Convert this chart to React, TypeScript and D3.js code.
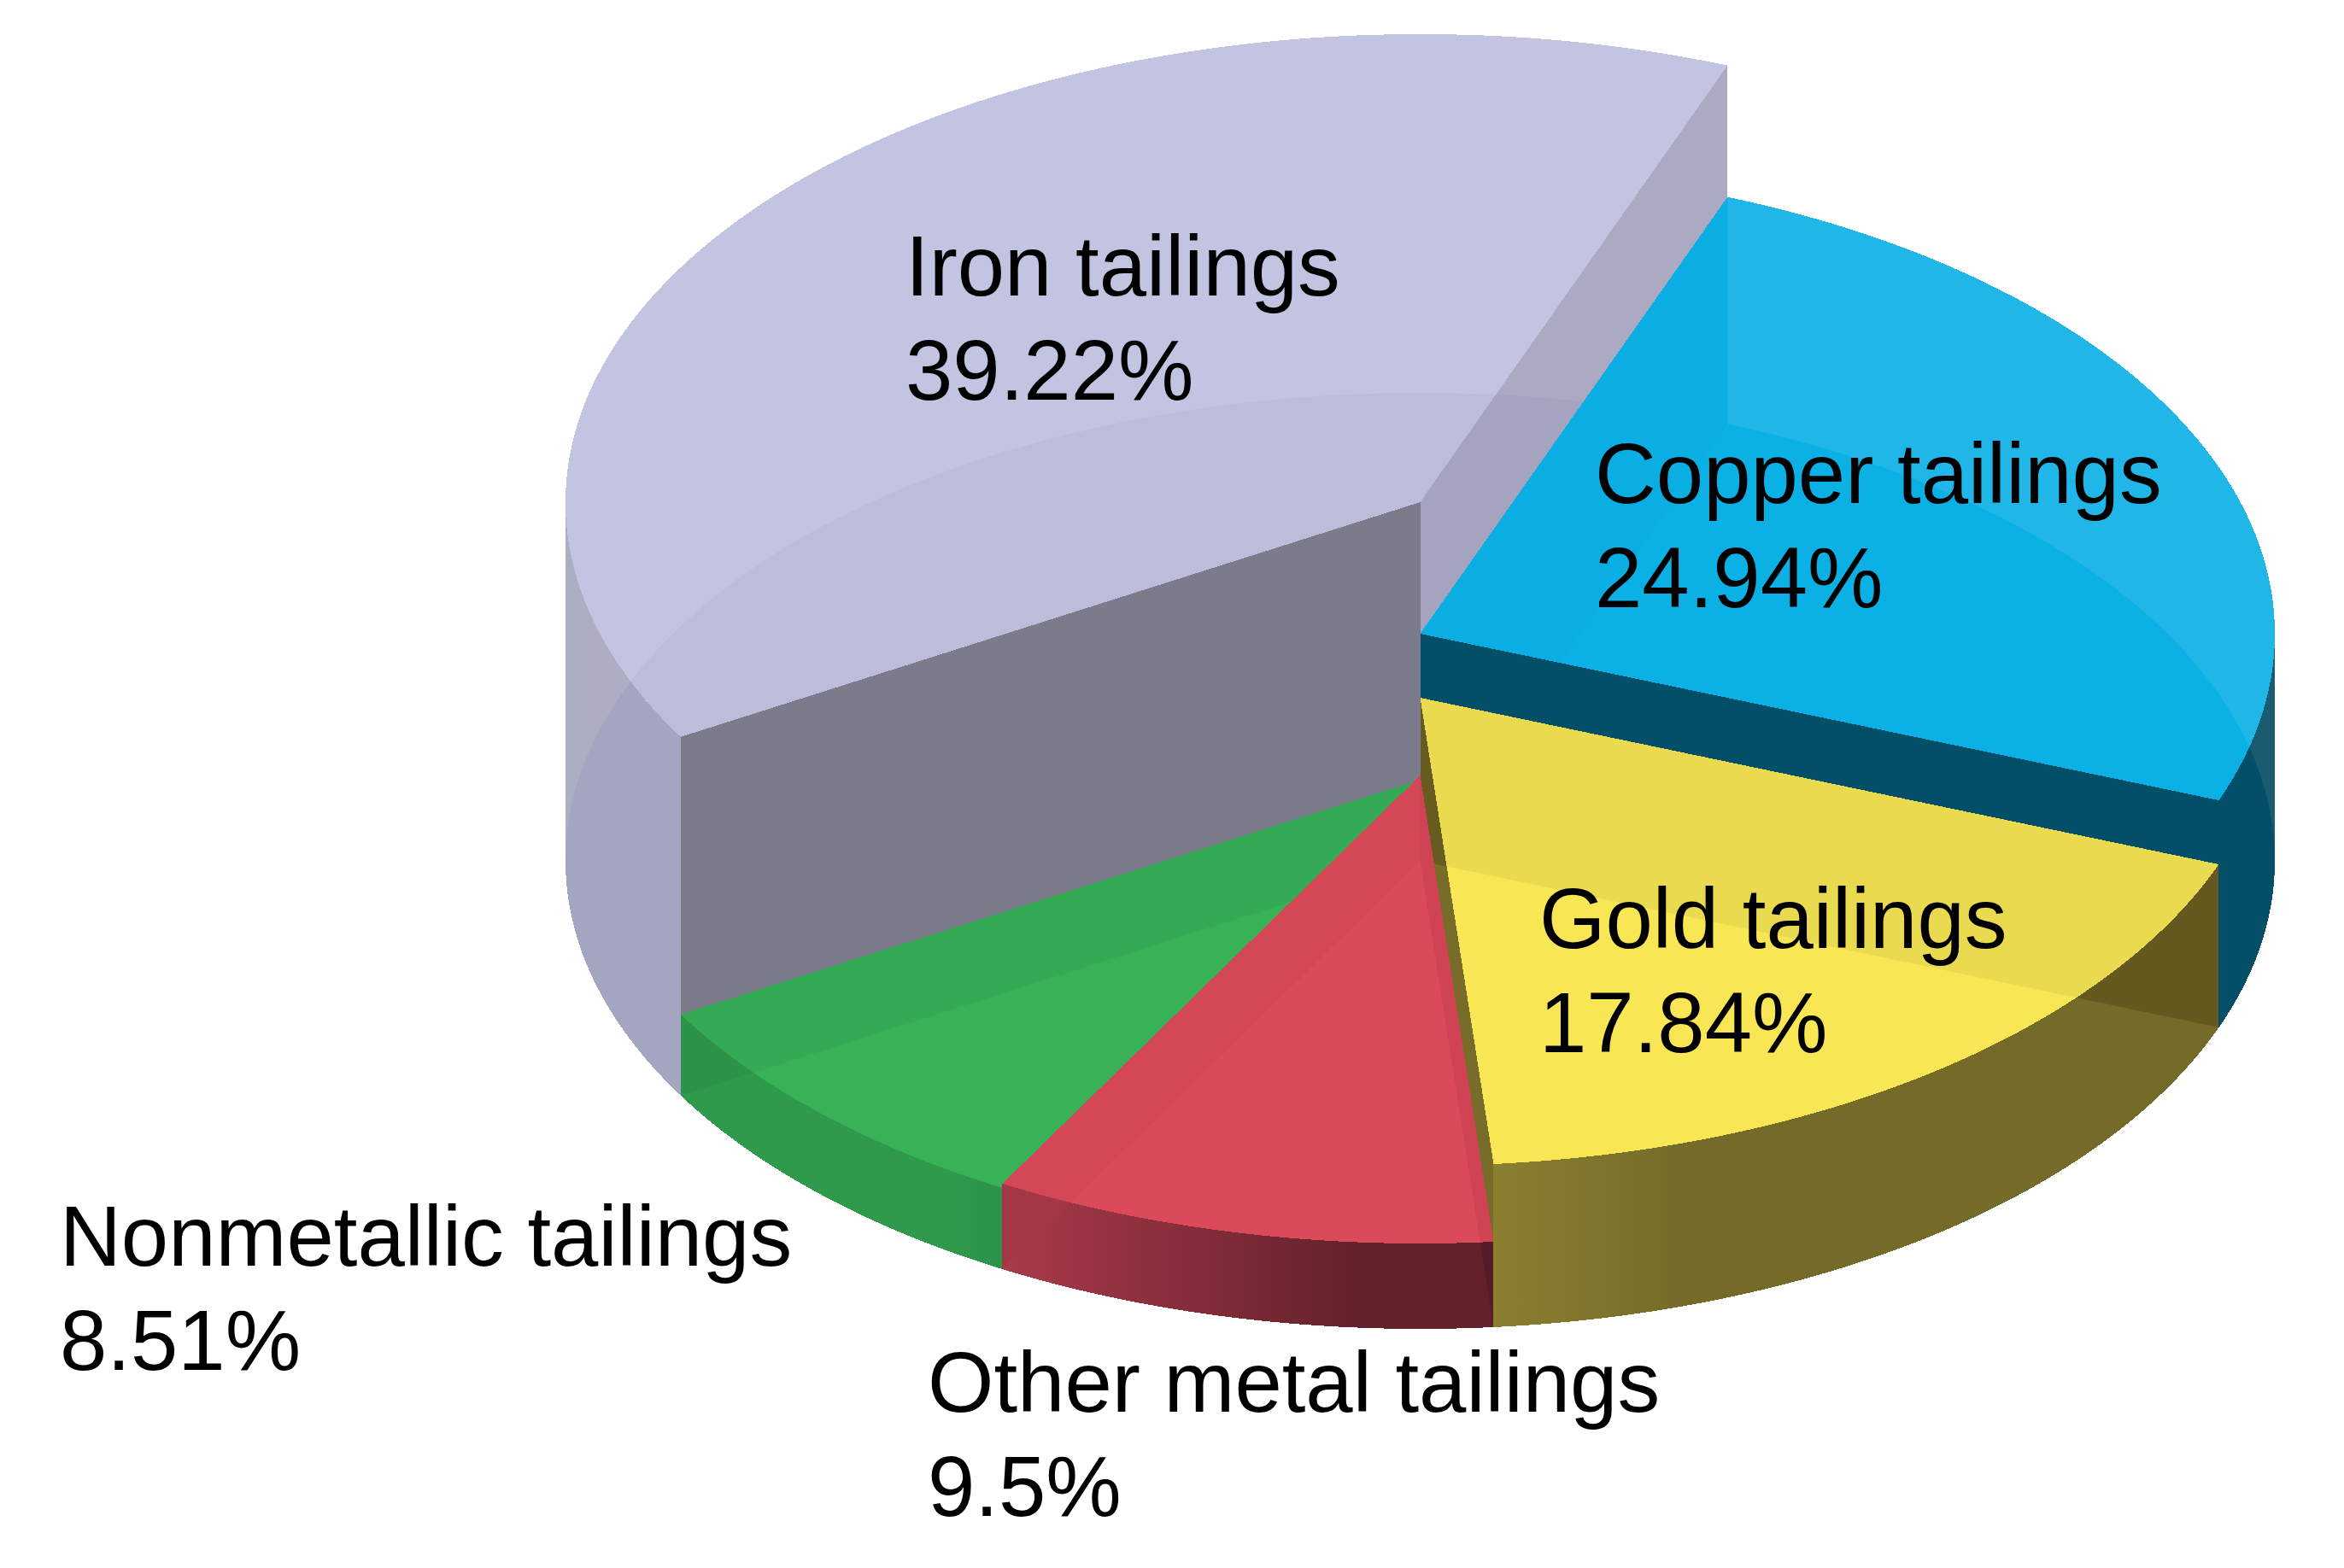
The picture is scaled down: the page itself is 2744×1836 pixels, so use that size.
import React from 'react';
import * as d3 from 'd3';

const categories = ['Iron tailings', 'Copper tailings', 'Gold tailings', 'Other metal tailings', 'Nonmetallic tailings'];
const shares = [39.22, 24.94, 17.84, 9.5, 8.51];
const shareLabels = ['39.22%', '24.94%', '17.84%', '9.5%', '8.51%'];
const levels = [420, 266, 191, 100, 95];
const labelX = [1060, 1867, 1802, 1086, 70];
const labelY = [346, 589, 1110, 1653, 1482];

const W = 2744, H = 1836;
const CX = 1662.5, RX = 1000.5, RY = 548;
const deg = Math.PI / 180;
const y = d3.scaleLinear().domain([0, 420]).range([1008, 588]);
const line = d3.line();

type P = [number, number];
const pt = (t: number, cy: number): P => [CX + RX * Math.cos(t), cy + RY * Math.sin(t)];
const arcPts = (t0: number, t1: number, cy: number): P[] => {
  const n = Math.max(2, Math.ceil(Math.abs(t1 - t0) / (0.25 * deg)));
  return d3.range(n + 1).map(i => pt(t0 + ((t1 - t0) * i) / n, cy));
};
const closed = (pts: P[]) => line(pts) + 'Z';
const sector = (t0: number, t1: number, cy: number) => closed([[CX, cy], ...arcPts(t0, t1, cy)]);
const outerWall = (t0: number, t1: number, top: number, base: number) =>
  closed([...arcPts(t0, t1, top), ...arcPts(t1, t0, base)]);
const planeWall = (t: number, top: number, base: number) =>
  closed([[CX, top], pt(t, top), pt(t, base), [CX, base]]);

const arcs = d3
  .pie<number>()
  .sort(null)
  .startAngle(239.9 * deg)
  .endAngle((239.9 + 360) * deg)(shares)
  .map(a => ({ t0: a.startAngle - Math.PI / 2, t1: a.endAngle - Math.PI / 2 }));

export default function App() {
  const base = y(0);
  const [iron, copper, gold, red, green] = arcs;
  const [yIron, yCopper, yGold, yRed, yGreen] = levels.map(l => y(l));
  const baseEllipse = closed(arcPts(0, Math.PI * 2, base));
  const ironRight = planeWall(iron.t1, yIron, base);
  const ironFront = planeWall(iron.t0, yIron, base);
  const copperFront = planeWall(copper.t1, yCopper, base);
  const goldLeft = planeWall(gold.t1, yGold, base);
  const redLeft = planeWall(red.t1, yRed, base);
  const fontFamily = '"Liberation Sans", Arial, sans-serif';
  const goldTop = sector(gold.t0, gold.t1, yGold);
  const redTop = sector(red.t0, red.t1, yRed);
  const greenTop = sector(green.t0, green.t1, yGreen);
  const goldWall = outerWall(gold.t0, gold.t1, yGold, base);
  const redWall = outerWall(red.t0, red.t1, yRed, base);
  const greenWall = outerWall(green.t0, green.t1, yGreen, base);
  const copperWall = outerWall(2 * Math.PI, copper.t1, yCopper, base);
  const ironWall = outerWall(iron.t0, Math.PI, yIron, base);
  const greenBackWall = closed([pt(green.t1, yGreen), [CX, yGreen], [CX, base], pt(green.t1, base)]);

  const over = (shape: string, clip: string, fill: string) => (
    <g clipPath={`url(#${clip})`}>
      <path d={shape} fill={fill} />
    </g>
  );

  return (
    <svg width={W} height={H} viewBox={`0 0 ${W} ${H}`} style={{ position: 'absolute', left: 0, top: 0, display: 'block', background: '#fff' }} shapeRendering="crispEdges">
      <defs>
        <clipPath id="c-base"><path d={baseEllipse} /></clipPath>
        <clipPath id="c-iron-right"><path d={ironRight} /></clipPath>
        <clipPath id="c-copper-front"><path d={copperFront} /></clipPath>
        <clipPath id="c-gold-left"><path d={goldLeft} /></clipPath>
        <clipPath id="c-red-left"><path d={redLeft} /></clipPath>
        <clipPath id="c-green-back"><path d={greenBackWall} /></clipPath>
        <linearGradient id="g-gold" gradientUnits="userSpaceOnUse" x1={1748} x2={1975} y1={0} y2={0}>
          <stop offset="0" stopColor="#8b8030" />
          <stop offset="1" stopColor="#756b29" />
        </linearGradient>
        <linearGradient id="g-red" gradientUnits="userSpaceOnUse" x1={1171} x2={1600} y1={0} y2={0}>
          <stop offset="0" stopColor="#aa3a4b" />
          <stop offset="1" stopColor="#62212b" />
        </linearGradient>
        <linearGradient id="g-green" gradientUnits="userSpaceOnUse" x1={1100} x2={1171} y1={0} y2={0}>
          <stop offset="0" stopColor="#2f9a4c" />
          <stop offset="1" stopColor="#2c934a" />
        </linearGradient>
      </defs>

      {/* Iron */}
      <path d={ironWall} fill="#adaec3" />
      {over(ironWall, 'c-base', '#a4a5c0')}
      <path d={sector(iron.t0, iron.t1, yIron)} fill="#c3c4e1" />
      {over(sector(iron.t0, iron.t1, yIron), 'c-base', '#bcbcdb')}
      <path d={ironRight} fill="#abaac2" />
      {over(ironRight, 'c-base', '#a4a4bf')}
      <path d={ironFront} fill="#7c7b8c" />

      {/* Copper */}
      <path d={sector(copper.t0, copper.t1, yCopper)} fill="#21b6e8" />
      {over(sector(copper.t0, copper.t1, yCopper), 'c-base', '#0bb0e4')}
      {over(sector(copper.t0, copper.t1, yCopper), 'c-iron-right', '#0baee2')}
      <path d={copperWall} fill="#1b5b6f" />
      {over(copperWall, 'c-base', '#044f68')}
      <path d={copperFront} fill="#044f68" />

      {/* Gold */}
      <path d={goldWall} fill="url(#g-gold)" />
      {over(goldWall, 'c-copper-front', '#65591f')}
      <path d={goldTop} fill="#f9e654" />
      {over(goldTop, 'c-copper-front', '#e9da50')}
      <path d={goldLeft} fill="#776c2a" />
      {over(goldLeft, 'c-copper-front', '#675b20')}

      {/* Green */}
      <path d={greenWall} fill="url(#g-green)" />
      {over(greenWall, 'c-green-back', '#2c9349')}
      <path d={greenTop} fill="#37b257" />
      {over(greenTop, 'c-green-back', '#34aa55')}

      {/* Other metal */}
      <path d={redWall} fill="url(#g-red)" />
      {over(redWall, 'c-red-left', '#a33647')}
      {over(redWall, 'c-gold-left', '#561b27')}
      <path d={redTop} fill="#db4a5b" />
      {over(redTop, 'c-red-left', '#d44757')}
      {over(redTop, 'c-gold-left', '#cf4354')}

      {categories.map((c, i) => (
        <text key={c} x={labelX[i]} y={labelY[i]} fontFamily={fontFamily} fontSize={99.5} fill="#000">
          <tspan x={labelX[i]}>{c}</tspan>
          <tspan x={labelX[i]} dy={122}>{shareLabels[i]}</tspan>
        </text>
      ))}
    </svg>
  );
}
